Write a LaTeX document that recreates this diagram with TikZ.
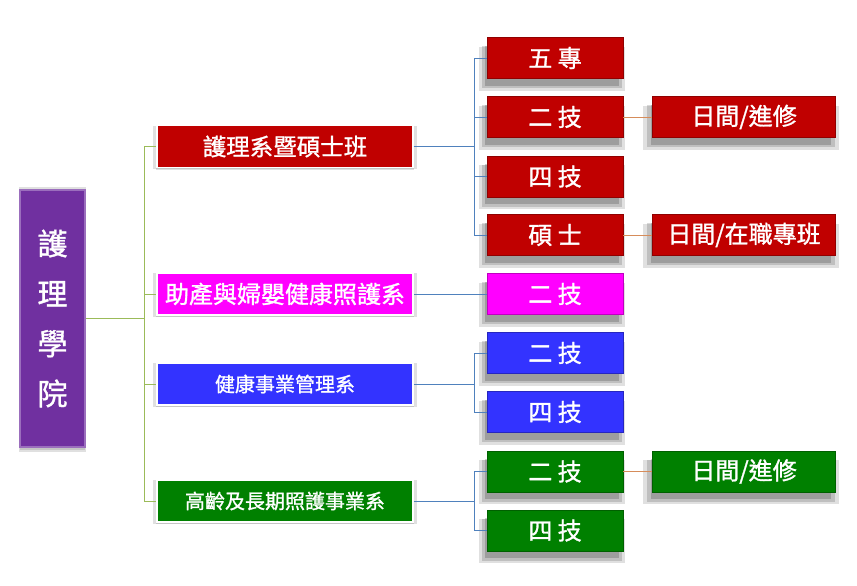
\documentclass[tikz,border=0pt]{standalone}
\usepackage{fontspec}
\setmainfont[FakeBold=1.2]{Noto Sans CJK TC}
\usetikzlibrary{shadows}
\definecolor{nred}{RGB}{192,0,0}
\definecolor{nmag}{RGB}{255,0,255}
\definecolor{nblue}{RGB}{51,51,255}
\definecolor{ngreen}{RGB}{0,128,0}
\definecolor{npurple}{RGB}{112,48,160}
\definecolor{lgreen}{RGB}{155,187,89}
\definecolor{lblue}{RGB}{79,129,189}
\definecolor{lorange}{RGB}{214,140,90}
\begin{document}
\begin{tikzpicture}[x=1pt,y=-1pt,
	halo/.style={drop shadow={shadow xshift=0pt,shadow yshift=-1pt,shadow scale=1.03,opacity=.12,fill=black},
		drop shadow={shadow xshift=0pt,shadow yshift=-2pt,shadow scale=1.01,opacity=.12,fill=black}},
	soft/.style={drop shadow={shadow xshift=-3pt,shadow yshift=-10pt,shadow scale=1.07,opacity=.12,fill=black},
		drop shadow={shadow xshift=-3pt,shadow yshift=-9pt,shadow scale=1.03,opacity=.15,fill=black},
		drop shadow={shadow xshift=-3pt,shadow yshift=-8pt,shadow scale=.98,opacity=.18,fill=black}},
	dept/.style={fill=#1,draw=white,line width=1.8pt,text=white,minimum width=256pt,minimum height=42pt,inner sep=0pt,halo},
	prog/.style={fill=#1,draw=#1!75!black,line width=.6pt,text=white,minimum width=136pt,minimum height=41pt,inner sep=0pt,
		font=\fontsize{24}{24}\selectfont,soft},
	mode/.style={prog=#1,minimum width=183pt},
	gline/.style={draw=lgreen,line width=.8pt},
	bline/.style={draw=lblue,line width=.8pt},
	oline/.style={draw=lorange,line width=.8pt}]
	\useasboundingbox (0,0) rectangle (857,586);
	\node(root)[fill=npurple,draw=npurple!70!white,line width=1.5pt,text=white,minimum width=65pt,minimum height=257pt,inner sep=0pt,
		align=center,font=\fontsize{30}{50}\selectfont,halo] at (52.5,318.5) {護\\理\\學\\院};
	\node(d1)[dept=nred,font=\fontsize{23.5}{24}\selectfont] at (285,146.5) {護理系暨碩士班};
	\node(d2)[dept=nmag,font=\fontsize{24}{24}\selectfont] at (285,294) {助產與婦嬰健康照護系};
	\node(d3)[dept=nblue,font=\fontsize{20}{20}\selectfont] at (285,384) {健康事業管理系};
	\node(d4)[dept=ngreen,font=\fontsize{20}{20}\selectfont] at (285,501) {高齡及長期照護事業系};
	\node(p1)[prog=nred] at (555,58) {五 專};
	\node(p2)[prog=nred] at (555,117) {二 技};
	\node(p3)[prog=nred] at (555,176.5) {四 技};
	\node(p4)[prog=nred] at (555,235) {碩 士};
	\node(p5)[prog=nmag] at (555,294) {二 技};
	\node(p6)[prog=nblue] at (555,353) {二 技};
	\node(p7)[prog=nblue] at (555,412) {四 技};
	\node(p8)[prog=ngreen] at (555,471.5) {二 技};
	\node(p9)[prog=ngreen] at (555,530.5) {四 技};
	\node(m1)[mode=nred] at (744,117) {日間/進修};
	\node(m2)[mode=nred] at (744,235) {日間/在職專班};
	\node(m3)[mode=ngreen] at (744,471.5) {日間/進修};
	\draw[gline] (root.east) -- ++(59,0) |- (d1.west);
	\draw[gline] (root.east) -- ++(59,0) |- (d2.west);
	\draw[gline] (root.east) -- ++(59,0) |- (d3.west);
	\draw[gline] (root.east) -- ++(59,0) |- (d4.west);
	\draw[bline] (d1.east) -- ++(60,0) |- (p1.west);
	\draw[bline] (d1.east) -- ++(60,0) |- (p2.west);
	\draw[bline] (d1.east) -- ++(60,0) |- (p3.west);
	\draw[bline] (d1.east) -- ++(60,0) |- (p4.west);
	\draw[bline] (d2.east) -- (p5.west);
	\draw[bline] (d3.east) -- ++(60,0) |- (p6.west);
	\draw[bline] (d3.east) -- ++(60,0) |- (p7.west);
	\draw[bline] (d4.east) -- ++(60,0) |- (p8.west);
	\draw[bline] (d4.east) -- ++(60,0) |- (p9.west);
	\draw[oline] (p2.east) -- (m1.west);
	\draw[oline] (p4.east) -- (m2.west);
	\draw[oline] (p8.east) -- (m3.west);
\end{tikzpicture}
\end{document}
